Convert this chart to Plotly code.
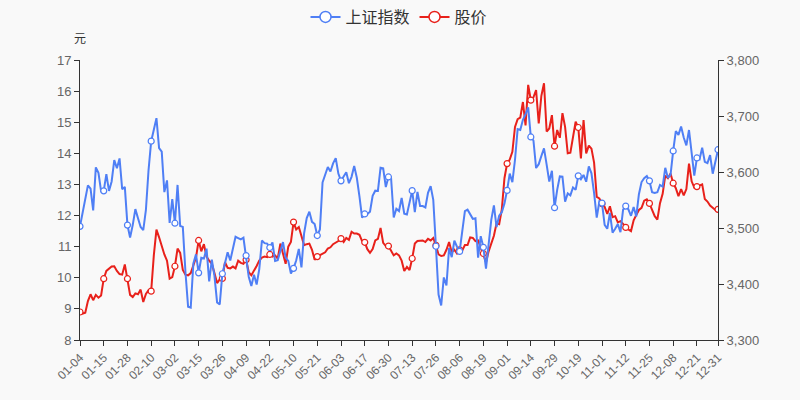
import pandas as pd
import plotly.graph_objects as go

# 2021 trading days (China A-share calendar)
holidays = ["2021-01-01", "2021-02-11", "2021-02-12", "2021-02-15", "2021-02-16", "2021-02-17",
            "2021-04-05", "2021-05-03", "2021-05-04", "2021-05-05", "2021-06-14",
            "2021-09-20", "2021-09-21", "2021-10-01", "2021-10-04", "2021-10-05",
            "2021-10-06", "2021-10-07"]
days = pd.bdate_range("2021-01-01", "2021-12-31")
days = [d for d in days if d.strftime("%Y-%m-%d") not in holidays]
dates = [d.strftime("%m-%d") for d in days]

sse = [
    3502.96, 3528.68, 3550.64, 3576.20, 3570.11, 3531.50, 3608.34, 3598.65, 3565.90, 3566.38,
    3596.22, 3566.26, 3583.09, 3621.26, 3606.75, 3624.24, 3569.43, 3573.34, 3505.18, 3483.07,
    3505.28, 3533.68, 3517.31, 3501.86, 3496.33, 3532.44, 3603.49, 3655.09, 3675.36, 3696.17,
    3642.44, 3636.36, 3564.08, 3585.05, 3509.08,
    3551.40, 3508.59, 3576.90, 3503.49, 3501.99, 3421.41, 3359.29, 3357.74, 3436.83, 3453.08,
    3419.95, 3446.73, 3445.55, 3463.07, 3404.66, 3443.44, 3414.41, 3367.06, 3363.59, 3418.33,
    3435.30, 3456.68, 3441.91,
    3466.33, 3484.39, 3482.07, 3479.63, 3482.55, 3450.68, 3412.95, 3396.47, 3416.71, 3398.99,
    3426.62, 3477.55, 3472.94, 3472.10, 3465.11, 3474.17, 3441.17, 3442.61, 3457.07, 3474.90,
    3446.86,
    3441.28, 3418.87, 3427.99, 3441.85, 3462.75, 3429.54, 3490.38, 3517.62, 3529.01, 3510.96,
    3506.94, 3486.56, 3497.28, 3581.34, 3593.36, 3608.85, 3600.78, 3615.48,
    3624.71, 3597.14, 3584.22, 3591.84, 3599.54, 3580.11, 3591.40, 3610.86, 3589.75, 3556.56,
    3518.33, 3525.10, 3525.10, 3529.18, 3557.41, 3566.65, 3566.22, 3607.56, 3606.37, 3573.18,
    3591.20,
    3588.78, 3518.76, 3534.32, 3530.26, 3553.72, 3525.50, 3524.09, 3547.84, 3566.71, 3528.50,
    3564.59, 3539.30, 3539.12, 3536.79, 3562.69, 3574.73, 3550.40, 3467.44, 3381.18, 3361.59,
    3411.72, 3397.36,
    3464.29, 3447.99, 3477.22, 3466.56, 3458.23, 3494.63, 3529.93, 3532.62, 3524.74, 3516.30,
    3517.34, 3446.98, 3485.29, 3465.55, 3427.33, 3477.13, 3514.47, 3540.38, 3501.66, 3522.16,
    3528.15, 3543.94,
    3567.10, 3597.04, 3581.73, 3621.86, 3676.59, 3675.19, 3693.13, 3703.11, 3715.37, 3662.60,
    3656.22, 3607.09, 3613.97, 3628.49, 3642.22, 3613.07, 3582.83, 3602.22, 3536.29, 3568.17,
    3592.17, 3591.71, 3546.94, 3561.76, 3558.28, 3572.37, 3568.14, 3593.15, 3587.00, 3594.78,
    3582.60, 3609.86, 3597.64, 3562.31, 3518.42, 3547.34,
    3544.48, 3505.63, 3498.54, 3526.87, 3491.57, 3498.63, 3507.00, 3492.46, 3532.79, 3539.10,
    3533.30, 3521.79, 3537.37, 3520.71, 3560.37, 3582.08, 3589.09, 3592.70, 3584.18, 3564.09,
    3562.70, 3563.89,
    3576.89, 3573.84, 3607.43, 3589.31, 3595.09, 3637.57, 3673.04, 3666.35, 3681.08, 3661.53,
    3647.63, 3675.02, 3632.36, 3593.60, 3625.13, 3622.62, 3643.34, 3618.05, 3615.97, 3630.11,
    3597.00, 3619.19, 3639.78,
]

price = [
    8.90, 8.85, 8.88, 9.25, 9.47, 9.28, 9.45, 9.36, 9.43, 9.97,
    10.22, 10.30, 10.36, 10.37, 10.22, 10.12, 10.10, 10.43, 9.97, 9.45,
    9.38, 9.50, 9.47, 9.62, 9.22, 9.48, 9.60, 9.57, 10.72, 11.55,
    11.30, 11.00, 10.75, 10.55, 9.97, 10.02, 10.37, 10.94, 10.80, 10.25,
    10.10, 10.08, 10.15, 10.40, 10.65, 11.20, 10.85, 11.08, 10.68, 10.55,
    10.45, 10.15, 9.83, 9.95, 9.98, 10.50, 10.32, 10.30, 10.36, 10.30,
    10.55, 10.48, 10.45, 10.58, 10.18, 10.08, 10.22, 10.38, 10.55, 10.65,
    10.68, 10.66, 10.75, 10.68, 10.72, 10.62, 11.10, 10.78, 10.45, 11.00,
    11.15, 11.79, 11.55, 11.63, 11.30, 11.05, 11.08, 11.10, 10.90, 10.58,
    10.68, 10.72, 10.78, 10.82, 10.94, 10.98, 11.08, 11.12, 11.18, 11.26,
    11.15, 11.28, 11.22, 11.48, 11.42, 11.42, 11.38, 11.18, 11.14, 10.92,
    10.80, 10.92, 11.20, 11.25, 11.60, 11.12, 11.02, 11.02, 10.85, 10.72,
    10.78, 10.72, 10.55, 10.22, 10.35, 10.25, 10.62, 11.10, 11.18, 11.18,
    11.20, 11.15, 11.25, 11.20, 11.28, 11.04, 10.75, 10.70, 10.72, 10.90,
    11.15, 10.82, 10.90, 10.78, 10.90, 10.88, 11.05, 11.05, 11.30, 11.28,
    11.18, 11.20, 10.98, 10.78, 10.50, 10.85, 11.10, 11.35, 11.75, 11.72,
    12.20, 13.20, 13.67, 13.80, 14.05, 14.85, 15.10, 15.15, 15.65, 14.90,
    16.20, 15.71, 15.80, 16.03, 14.96, 15.85, 16.25, 14.70, 14.80, 15.23,
    14.23, 14.75, 14.50, 15.29, 14.85, 14.00, 14.02, 14.55, 15.02, 14.83,
    13.84, 15.07, 14.00, 14.25, 14.15, 13.70, 12.60, 12.55, 12.38, 12.28,
    12.05, 12.30, 11.95, 11.98, 11.78, 11.82, 11.72, 11.62, 11.55, 11.50,
    11.85, 12.02, 12.18, 12.25, 12.48, 12.52, 12.39, 12.18, 11.98, 11.87,
    12.40, 12.70, 13.28, 13.20, 13.35, 13.04, 12.88, 12.62, 12.85, 12.65,
    12.85, 13.67, 13.10, 12.90, 12.93, 12.95, 13.00, 12.53, 12.45, 12.32,
    12.25, 12.18, 12.20,
]

n = len(dates)
mark_idx = sorted(set(range(0, n, 9)) | {n - 1})
tickvals = [dates[i] for i in range(0, n, 9)] + [dates[-1]]

BLUE = "#4f7ff5"
RED = "#e8211b"
FONT = "Liberation Sans, Noto Sans CJK SC, sans-serif"

fig = go.Figure()
for name, vals, color, ax in [("上证指数", sse, BLUE, "y2"), ("股价", price, RED, "y")]:
    fig.add_trace(go.Scatter(x=dates, y=vals, yaxis=ax, mode="lines", showlegend=False,
                             line=dict(color=color, width=2), hoverinfo="skip"))
    fig.add_trace(go.Scatter(x=[dates[i] for i in mark_idx], y=[vals[i] for i in mark_idx],
                             yaxis=ax, mode="markers", showlegend=False, name=name,
                             marker=dict(symbol="circle", size=6, color="white",
                                         line=dict(color=color, width=1.2))))
    fig.add_trace(go.Scatter(x=[None], y=[None], yaxis=ax, mode="lines+markers", name=name,
                             line=dict(color=color, width=2),
                             marker=dict(symbol="circle", size=11, color="white",
                                         line=dict(color=color, width=1.5))))

axis_common = dict(showgrid=False, zeroline=False, showline=True, linecolor="#333",
                   linewidth=1, ticks="outside", ticklen=5, tickcolor="#333")
tf = dict(size=13, color="#666", family=FONT)

fig.update_layout(
    width=800, height=400,
    margin=dict(l=80, r=82, t=60, b=60),
    paper_bgcolor="#f9f9f9", plot_bgcolor="#f9f9f9",
    font=dict(family=FONT, color="#333"),
    showlegend=True,
    legend=dict(orientation="h", x=0.5, xanchor="center", y=1.0, yanchor="top",
                yref="container", font=dict(size=16, color="#333", family=FONT),
                bgcolor="rgba(0,0,0,0)", itemwidth=30),
    xaxis=dict(type="category", range=[0, n - 1], tickmode="array", tickvals=tickvals,
               ticktext=tickvals, tickangle=-45, tickfont=dict(size=12, color="#666", family=FONT),
               **axis_common),
    yaxis=dict(range=[8, 17], dtick=1, tickfont=tf, **axis_common),
    yaxis2=dict(range=[3300, 3800], dtick=100, overlaying="y", side="right",
                tickformat=",", tickfont=tf, **axis_common),
    annotations=[dict(text="元", x=0, xref="paper", y=1.0, yref="paper", yanchor="bottom",
                      xanchor="center", yshift=12, showarrow=False,
                      font=dict(size=12, color="#333", family=FONT))],
)

fig.write_html("out.html")
